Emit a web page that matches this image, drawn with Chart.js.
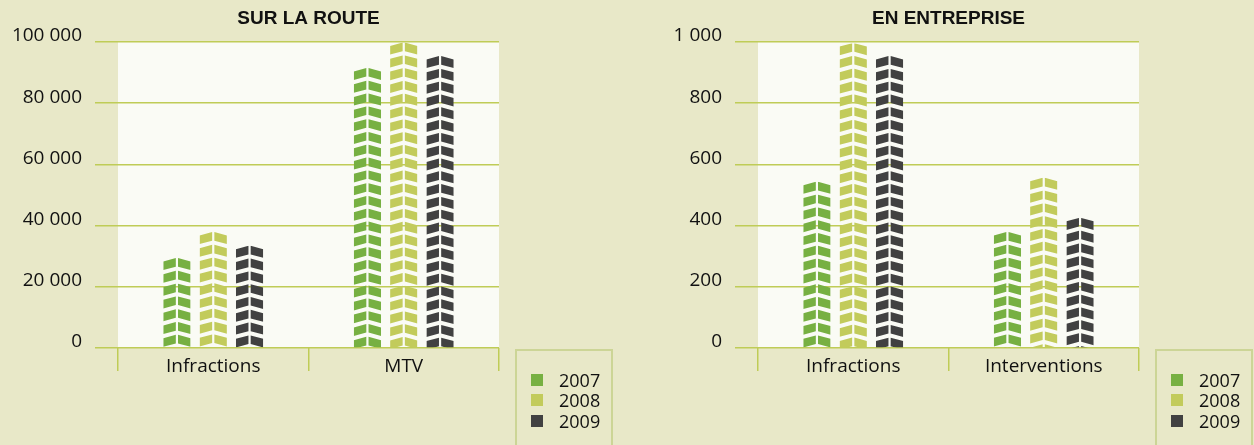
<!DOCTYPE html>
<html><head><meta charset="utf-8">
<script src="https://cdn.jsdelivr.net/npm/chart.js@4/dist/chart.umd.min.js"></script>
<style>
html,body{margin:0;padding:0;background:#e8e8c8;width:1254px;height:445px;overflow:hidden;position:relative;}
.panel{position:absolute;top:0;width:640px;height:445px;}
.panel canvas{position:absolute;left:0;top:0;}
.legend{position:absolute;left:515px;top:349px;width:98px;height:130px;box-sizing:border-box;border:2px solid #ccd596;padding:19px 0 0 14px;font-family:'Open Sans';font-size:18px;color:#111;}
.legend .it{display:flex;align-items:center;height:20.3px;line-height:20px;}
.legend .sw{width:12px;height:12px;margin-right:16px;flex:none;}
</style></head>
<body>
<div class="panel" style="left:0"><canvas id="c1" width="640" height="445"></canvas><div class="legend" id="l1"></div></div>
<div class="panel" style="left:640px"><canvas id="c2" width="640" height="445"></canvas><div class="legend" id="l2"></div></div>
<script>
// ---- data ----
const seriesNames = ['2007', '2008', '2009'];
const seriesColors = ['#77b042', '#c2cb5b', '#414141'];

const routeTitle = 'SUR LA ROUTE';
const routeCategories = ['Infractions', 'MTV'];
const route2007 = [29400, 91500];
const route2008 = [37900, 99800];
const route2009 = [33400, 95400];
const routeTicks = [0, 20000, 40000, 60000, 80000, 100000];

const entTitle = 'EN ENTREPRISE';
const entCategories = ['Infractions', 'Interventions'];
const ent2007 = [543, 379];
const ent2008 = [996, 556];
const ent2009 = [954, 425];
const entTicks = [0, 200, 400, 600, 800, 1000];

// ---- styling ----
const gridColor = '#bfcc57';
const plotBg = '#fafbf5';
const fontFam = "'Open Sans', sans-serif";

function fmt(v) { return String(v).replace(/\B(?=(\d{3})+(?!\d))/g, ' '); }

const plotBgPlugin = {
  id: 'plotBg',
  beforeDraw(chart) {
    const a = chart.chartArea, ctx = chart.ctx;
    ctx.save(); ctx.fillStyle = plotBg;
    ctx.fillRect(a.left, a.top, a.right - a.left, a.bottom - a.top);
    ctx.restore();
  }
};

const chevronPlugin = {
  id: 'chevrons',
  beforeDatasetDraw(chart, args) {
    const ctx = chart.ctx;
    const color = chart.data.datasets[args.index].backgroundColor;
    ctx.save();
    ctx.fillStyle = color;
    args.meta.data.forEach(bar => {
      const p = bar.getProps(['x', 'y', 'base', 'width'], true);
      const L = p.x - p.width / 2, R = p.x + p.width / 2;
      const gap = 2.2, h = (p.width - gap) / 2, P = 12.8, T = 8.6, S = 3.4;
      ctx.save();
      ctx.beginPath(); ctx.rect(L, p.y, p.width, p.base - p.y); ctx.clip();
      for (let ty = p.y; ty < p.base; ty += P) {
        ctx.beginPath();
        ctx.moveTo(L, ty + S); ctx.lineTo(L + h, ty); ctx.lineTo(L + h, ty + T); ctx.lineTo(L, ty + S + T); ctx.closePath();
        ctx.moveTo(R - h, ty); ctx.lineTo(R, ty + S); ctx.lineTo(R, ty + S + T); ctx.lineTo(R - h, ty + T); ctx.closePath();
        ctx.fill();
      }
      ctx.restore();
    });
    ctx.restore();
    return false;
  }
};

function makeChart(canvasId, legendId, title, categories, series, ticks) {
  const datasets = series.map((vals, i) => ({
    label: seriesNames[i],
    data: vals,
    backgroundColor: seriesColors[i],
    categoryPercentage: 0.572,
    barPercentage: 0.752
  }));
  const chart = new Chart(document.getElementById(canvasId), {
    type: 'bar',
    data: { labels: categories, datasets },
    options: {
      responsive: false,
      devicePixelRatio: 1,
      animation: false,
      layout: { padding: { left: 0, right: 141, top: 0, bottom: 0 } },
      plugins: {
        legend: { display: false },
        tooltip: { enabled: false },
        title: {
          display: true, text: title, fullSize: false, color: '#111',
          font: { family: "'Liberation Sans', Arial, sans-serif", size: 19, weight: 'bold' },
          padding: { top: 7.6, bottom: 11.6 }
        }
      },
      scales: {
        x: {
          afterFit(s) { s.height = 97; },
          grid: { offset: true, drawOnChartArea: false, drawTicks: true, tickLength: 23, color: gridColor, lineWidth: 1.5 },
          border: { display: false },
          ticks: { color: '#111', font: { family: fontFam, size: 19 }, padding: -16 }
        },
        y: {
          min: ticks[0], max: ticks[ticks.length - 1],
          afterFit(s) { s.width = 118; },
          afterBuildTicks(s) { s.ticks = ticks.map(v => ({ value: v })); },
          grid: { color: gridColor, lineWidth: 1.5, drawTicks: true, tickLength: 23, tickColor: gridColor },
          border: { display: false },
          ticks: { color: '#111', font: { family: fontFam, size: 19 }, padding: 13, labelOffset: -6, callback: v => fmt(v) }
        }
      }
    },
    plugins: [plotBgPlugin, chevronPlugin]
  });
  const lg = document.getElementById(legendId);
  chart.data.datasets.forEach(ds => {
    const it = document.createElement('div'); it.className = 'it';
    const sw = document.createElement('span'); sw.className = 'sw'; sw.style.background = ds.backgroundColor;
    const tx = document.createElement('span'); tx.textContent = ds.label;
    it.appendChild(sw); it.appendChild(tx); lg.appendChild(it);
  });
  return chart;
}

makeChart('c1', 'l1', routeTitle, routeCategories, [route2007, route2008, route2009], routeTicks);
makeChart('c2', 'l2', entTitle, entCategories, [ent2007, ent2008, ent2009], entTicks);
</script>
</body></html>
